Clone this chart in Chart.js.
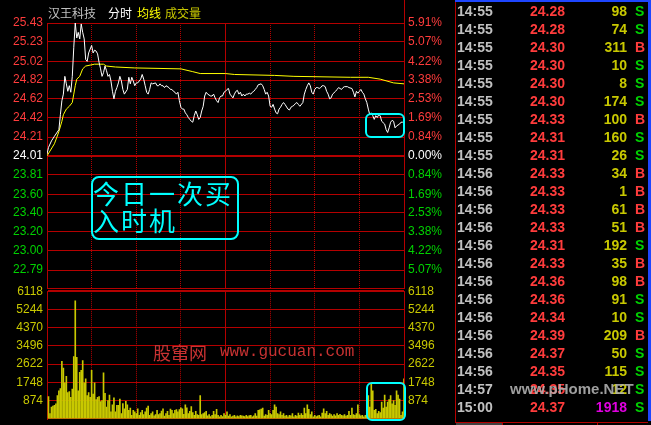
<!DOCTYPE html>
<html>
<head>
<meta charset="utf-8">
<script src="https://cdn.jsdelivr.net/npm/chart.js@4.4.0/dist/chart.umd.min.js"></script>
<style>
  html, body { margin: 0; padding: 0; background: #000; }
  #wrap { position: relative; width: 651px; height: 425px; overflow: hidden; background: #000;
          font-family: "Liberation Sans", Arial, sans-serif; }
  canvas { position: absolute; left: 0; }
  #cVol { top: 280px; }
  #cPrice { top: 0; }
  .abs { position: absolute; white-space: nowrap; }
  .cjk { font-family: "Noto Sans CJK SC", sans-serif; }
  .row { position: absolute; left: 455px; width: 193px; height: 18px; line-height: 18px;
         font: bold 14px "Liberation Sans", Arial, sans-serif; }
  .row span { position: absolute; top: 0; }
</style>
</head>
<body>
<div id="wrap">
  <canvas id="cVol" width="455" height="150"></canvas>
  <canvas id="cPrice" width="455" height="300"></canvas>

  <!-- title -->
  <span class="abs cjk" style="left:48px;top:6px;font-size:12px;line-height:14px;color:#c0c0c0">汉王科技</span>
  <span class="abs cjk" style="left:108px;top:6px;font-size:12px;line-height:14px;color:#ffffff">分时</span>
  <span class="abs cjk" style="left:137px;top:6px;font-size:12px;line-height:14px;color:#ffff00">均线</span>
  <span class="abs cjk" style="left:165px;top:6px;font-size:12px;line-height:14px;color:#c8c800">成交量</span>

  <!-- frame bits outside the plot -->
  <div class="abs" style="left:404px;top:0;width:1px;height:23px;background:#b40000"></div>
  <div class="abs" style="left:455px;top:0;width:1px;height:423px;background:#b40000"></div>
  <div class="abs" style="left:455px;top:0;width:196px;height:2px;background:#1e46ff"></div>
  <div class="abs" style="left:648px;top:0;width:3px;height:421px;background:#1e46ff"></div>
  <div class="abs" style="left:455px;top:422px;width:193px;height:1px;background:#b40000"></div>
  <div class="abs" style="left:456px;top:423px;width:46px;height:2px;background:#404040"></div>
  <div class="abs" style="left:502px;top:422px;width:1px;height:3px;background:#b40000"></div>
  <div class="abs" style="left:597px;top:422px;width:1px;height:3px;background:#b40000"></div>

  <!-- watermark -->
  <span class="abs cjk" style="left:153px;top:342px;font-size:18px;line-height:20px;color:#c83232">股窜网</span>
  <span class="abs" style="left:220px;top:343px;font:16px/18px 'Liberation Mono', monospace;color:#c83232">www.gucuan.com</span>

  <!-- annotations -->
  <div class="abs" style="left:91px;top:176px;width:148px;height:64px;box-sizing:border-box;border:2px solid #00ffff;border-radius:8px"></div>
  <div class="abs cjk" style="left:93px;top:179px;font-size:26px;line-height:27px;letter-spacing:2px;color:#00ffff">今日一次买<br>入时机</div>
  <div class="abs" style="left:365px;top:113px;width:40px;height:25px;box-sizing:border-box;border:2px solid #00ffff;border-radius:6px"></div>
  <div class="abs" style="left:366px;top:382px;width:40px;height:39px;box-sizing:border-box;border:2px solid #00ffff;border-radius:6px"></div>

  <div id="ticks"></div>
  <span class="abs" style="left:510px;top:381px;font:bold 15px/16px 'Liberation Sans', Arial, sans-serif;color:rgba(175,175,175,0.9)">www.pHome.NET</span>
</div>

<script>
// minute index (0 = 9:30, 120 = 11:30/13:00, 240 = 15:00) and price of the white line
const priceMin = [0, 1, 3, 5, 8, 9, 10, 11, 12, 13, 14, 15, 16, 17, 18, 19, 20, 21, 22, 23, 24, 25, 26, 27, 28, 30,
  31, 32, 33, 34, 35, 36, 37, 38, 39, 40, 41, 42, 43, 44, 45, 46, 47, 48, 49, 50, 51, 52, 54, 55, 56, 57, 58, 59,
  60, 61, 63, 64, 65, 66, 67, 68, 69, 70, 71, 73, 74, 75, 76, 77, 78, 79, 80, 82, 83, 84, 85, 86, 87, 88, 89, 90,
  91, 92, 93, 94, 95, 96, 97, 98, 99, 100, 101, 102, 103, 104, 105, 106, 107, 108, 110, 111, 112, 113, 114, 115,
  116, 117, 118, 119, 120,
  121, 122, 123, 124, 125, 126, 127, 128, 129, 130, 131, 132, 133, 134, 135, 136, 137, 138, 139, 140, 141, 142,
  144, 145, 146, 147, 148, 149, 150, 151, 152, 153, 154, 155, 156, 157, 158, 159, 160, 162, 163, 164, 165, 166,
  167, 168, 169, 170, 172, 173, 174, 175, 176, 177, 178, 179, 180, 181, 182, 183, 184, 185, 186, 187, 188, 189,
  190, 191, 192, 194, 195, 196, 197, 198, 199, 200, 201, 202, 203, 205, 206, 207, 208, 209, 210, 211, 212, 213,
  214, 215, 216, 217, 218, 219, 220, 221, 222, 223, 224, 225, 227, 228, 229, 230, 231, 232, 233, 234, 235, 237,
  238, 239, 240];
const priceVal = [24.03, 24.10, 24.17, 24.22, 24.29, 24.45, 24.60, 24.67, 24.86, 24.78, 24.70, 24.76, 24.69, 24.86,
  25.17, 25.43, 25.27, 25.33, 25.26, 25.42, 25.33, 25.26, 25.04, 25.02, 25.11, 25.19,
  25.11, 25.14, 25.13, 25.10, 25.01, 24.94, 24.86, 24.90, 24.97, 24.92, 24.86, 24.88, 24.81, 24.70, 24.62, 24.70,
  24.74, 24.79, 24.86, 24.81, 24.72, 24.67, 24.72, 24.85, 24.78, 24.85, 24.81, 24.76,
  24.79, 24.79, 24.83, 24.88, 24.83, 24.76, 24.69, 24.67, 24.72, 24.79, 24.78, 24.79, 24.76, 24.76, 24.78, 24.76,
  24.76, 24.74, 24.76, 24.74, 24.72, 24.72, 24.70, 24.69, 24.67, 24.69, 24.60, 24.53,
  24.51, 24.51, 24.47, 24.45, 24.42, 24.40, 24.38, 24.37, 24.44, 24.49, 24.45, 24.40, 24.42, 24.49, 24.54, 24.65,
  24.69, 24.67, 24.65, 24.65, 24.67, 24.63, 24.60, 24.58,
  24.63, 24.65, 24.65, 24.69, 24.70,
  24.72, 24.73, 24.67, 24.65, 24.63, 24.67, 24.70, 24.71, 24.67, 24.69, 24.65, 24.67, 24.65, 24.67, 24.67, 24.68,
  24.67, 24.69, 24.70, 24.72, 24.74, 24.77,
  24.78, 24.76, 24.72, 24.67, 24.69, 24.65, 24.54, 24.53, 24.56, 24.51, 24.47, 24.46, 24.51, 24.53, 24.56, 24.58,
  24.56, 24.51, 24.50, 24.53, 24.54, 24.55,
  24.57, 24.58, 24.56, 24.54, 24.58, 24.67, 24.72, 24.76, 24.79, 24.76, 24.69, 24.67, 24.72, 24.74, 24.74, 24.73,
  24.74, 24.76, 24.76, 24.75, 24.70, 24.67,
  24.62, 24.63, 24.67, 24.70, 24.72, 24.74, 24.73, 24.72, 24.74, 24.75, 24.75, 24.75, 24.74, 24.73, 24.69, 24.64,
  24.70, 24.68, 24.70, 24.72, 24.69, 24.67,
  24.62, 24.58, 24.51, 24.45, 24.47, 24.44, 24.40, 24.44, 24.42, 24.45, 24.44, 24.38, 24.35, 24.29, 24.26, 24.31,
  24.37, 24.39, 24.38, 24.31, 24.33, 24.35,
  24.37, 24.37, 24.37];

// yellow average-price line
const avgMin = [0, 5, 8, 10, 11, 13, 15, 17, 18, 19, 20, 22, 24, 26, 29, 32, 38, 40, 46, 59, 90, 98, 103, 120,
  126, 153, 166, 204, 216, 224, 233, 240];
const avgVal = [24.01, 24.14, 24.27, 24.38, 24.45, 24.51, 24.54, 24.58, 24.67, 24.76, 24.83, 24.86, 24.94, 24.97,
  24.98, 24.99, 24.99, 24.97, 24.96, 24.95, 24.94, 24.91, 24.89, 24.89,
  24.88, 24.87, 24.86, 24.85, 24.85, 24.83, 24.79, 24.78];

// volume per minute, minutes 1..240
const volume = [
  1060, 250, 560, 610, 640, 720, 1110, 1340, 1450, 2750,
  2430, 1730, 2040, 1260, 1300, 1030, 1420, 2980, 5660, 2950,
  1340, 2230, 2320, 2790, 1730, 1920, 1110, 1260, 1030, 2320,
  1180, 1730, 920, 1030, 1060, 830, 870, 2200, 1220, 560,
  870, 1140, 330, 670, 1000, 330, 640, 640, 950, 250,
  730, 480, 840, 670, 410, 510, 170, 410, 330,
  250, 480, 170, 300, 410, 200, 330, 510, 610, 170,
  250, 330, 140, 200, 410, 200, 250, 370, 480,
  130, 250, 360, 170, 470, 410, 250, 410, 440,
  330, 440, 520, 480, 220, 670, 520, 250, 360,
  590, 300, 170, 360, 200, 170, 1110, 200, 250, 300,
  360, 140, 200, 110, 170, 360, 200, 450, 170, 90,
  170, 110, 250, 170,
  330, 125, 200, 95, 125, 170, 95, 140, 110, 170,
  140, 125, 110, 170, 110, 155, 170, 95, 140, 250,
  125, 405, 435, 470, 515, 125, 200, 170, 405, 250,
  200, 405, 670, 560, 250, 200, 330, 170, 250, 125,
  170, 95, 170, 140, 250, 95, 170, 125, 280, 170,
  250, 170, 515, 250, 670, 450, 200, 330, 95, 170,
  110, 140, 170, 95, 280, 480, 250, 360, 170, 250,
  200, 125, 200, 140, 250, 170, 220, 170, 140, 200,
  125, 170, 360, 170, 515, 200, 170, 250, 670, 200,
  140, 170, 95, 170, 250, 1110, 560, 1650, 1340, 405,
  450, 250, 360, 300, 800, 515, 1140, 560, 800, 920,
  1110, 720, 875, 640, 1340, 1140, 950, 170, 330, 1918];

const prevClose = 24.01;
const priceTicks = [25.43, 25.23, 25.02, 24.82, 24.62, 24.42, 24.21, 24.01, 23.81, 23.60, 23.40, 23.20, 23.00, 22.79, 22.59];
const priceLabels = ['25.43', '25.23', '25.02', '24.82', '24.62', '24.42', '24.21', '24.01', '23.81', '23.60',
  '23.40', '23.20', '23.00', '22.79', ''];
const pctLabels = ['5.91%', '5.07%', '4.22%', '3.38%', '2.53%', '1.69%', '0.84%', '0.00%', '0.84%', '1.69%',
  '2.53%', '3.38%', '4.22%', '5.07%', ''];
const volTicks = [6118, 5244, 4370, 3496, 2622, 1748, 874, 0];
const volLabels = ['6118', '5244', '4370', '3496', '2622', '1748', '874', ''];
const halfHours = [30, 60, 90, 120, 150, 180, 210];

// tick-by-tick list on the right
const tradeTime = ['14:55', '14:55', '14:55', '14:55', '14:55', '14:55', '14:55', '14:55', '14:55',
  '14:56', '14:56', '14:56', '14:56', '14:56', '14:56', '14:56', '14:56', '14:56', '14:56', '14:56', '14:56',
  '14:57', '15:00'];
const tradePrice = ['24.28', '24.28', '24.30', '24.30', '24.30', '24.30', '24.33', '24.31', '24.31',
  '24.33', '24.33', '24.33', '24.33', '24.31', '24.33', '24.36', '24.36', '24.34', '24.39', '24.37', '24.35',
  '24.35', '24.37'];
const tradeVol = [98, 74, 311, 10, 8, 174, 100, 160, 26, 34, 1, 61, 51, 192, 35, 98, 91, 10, 209, 50, 115, 12, 1918];
const tradeSide = ['S', 'S', 'B', 'S', 'S', 'S', 'B', 'S', 'S', 'B', 'B', 'B', 'B', 'S', 'B', 'B', 'S', 'S', 'B',
  'S', 'S', 'S', 'S'];

const gridRed = '#b40000';
const upRed = '#ff3c3c';
const downGreen = '#00d200';
const volYellow = '#c8c800';
const axisFont = { family: "'Liberation Sans', Arial, sans-serif", size: 12 };

const xScale = () => ({
    type: 'linear',
    min: 0,
    max: 240,
    offset: false,
    ticks: { display: false },
    grid: { display: false, offset: false },
    border: { display: false },
    afterFit: s => { s.height = 0; }
});

// dotted every half hour, solid at noon
const sessionLines = {
    id: 'sessionLines',
    beforeDatasetsDraw(chart) {
        const { ctx, chartArea, scales: { x } } = chart;
        ctx.save();
        ctx.strokeStyle = gridRed;
        ctx.lineWidth = 1;
        halfHours.forEach(m => {
            const px = Math.floor(x.getPixelForValue(m)) + 0.5;
            ctx.setLineDash(m === 120 ? [] : [1, 1]);
            ctx.beginPath();
            ctx.moveTo(px, chartArea.top);
            ctx.lineTo(px, chartArea.bottom);
            ctx.stroke();
        });
        ctx.restore();
    }
};

const sideColor = i => (i < 7 ? upRed : (i === 7 ? '#ffffff' : downGreen));

new Chart(document.getElementById('cPrice'), {
    type: 'line',
    data: {
        datasets: [
            {
                data: priceMin.map((m, i) => ({ x: m, y: priceVal[i] })),
                borderColor: '#ffffff',
                borderWidth: 1,
                pointRadius: 0,
                tension: 0
            },
            {
                data: avgMin.map((m, i) => ({ x: m, y: avgVal[i] })),
                borderColor: '#ffff00',
                borderWidth: 1,
                pointRadius: 0,
                tension: 0
            }
        ]
    },
    options: {
        responsive: false,
        animation: false,
        devicePixelRatio: 1,
        layout: { padding: { top: 23, bottom: 10, left: 0, right: 0 } },
        plugins: { legend: { display: false }, tooltip: { enabled: false } },
        scales: {
            x: xScale(),
            y: {
                position: 'left',
                min: 22.59,
                max: 25.43,
                afterBuildTicks: s => { s.ticks = priceTicks.map(v => ({ value: v })); },
                afterFit: s => { s.width = 47; },
                ticks: { autoSkip: false, padding: 4, font: axisFont, color: c => sideColor(c.index),
                         callback: (v, i) => priceLabels[i] },
                grid: { color: gridRed, drawTicks: false,
                        lineWidth: c => (c.tick && c.tick.value === prevClose ? 2 : 1) },
                border: { color: gridRed }
            },
            yr: {
                position: 'right',
                min: 22.59,
                max: 25.43,
                afterBuildTicks: s => { s.ticks = priceTicks.map(v => ({ value: v })); },
                afterFit: s => { s.width = 51; },
                ticks: { autoSkip: false, padding: 4, font: axisFont, color: c => sideColor(c.index),
                         callback: (v, i) => pctLabels[i] },
                grid: { drawOnChartArea: false, drawTicks: false },
                border: { color: gridRed }
            }
        }
    },
    plugins: [sessionLines]
});

new Chart(document.getElementById('cVol'), {
    type: 'bar',
    data: {
        datasets: [{
            data: volume.map((v, i) => ({ x: i + 1, y: v })),
            backgroundColor: volYellow,
            barThickness: 1
        }]
    },
    options: {
        responsive: false,
        animation: false,
        devicePixelRatio: 1,
        layout: { padding: { top: 10, bottom: 8, left: 0, right: 0 } },
        plugins: { legend: { display: false }, tooltip: { enabled: false } },
        scales: {
            x: xScale(),
            y: {
                position: 'left',
                min: 0,
                max: 6118,
                afterBuildTicks: s => { s.ticks = volTicks.map(v => ({ value: v })); },
                afterFit: s => { s.width = 47; },
                ticks: { autoSkip: false, padding: 4, font: axisFont, color: volYellow,
                         callback: (v, i) => volLabels[i] },
                grid: { color: gridRed, drawTicks: false,
                        lineWidth: c => (c.tick && c.tick.value === 6118 ? 2 : 1) },
                border: { color: gridRed }
            },
            yr: {
                position: 'right',
                min: 0,
                max: 6118,
                afterBuildTicks: s => { s.ticks = volTicks.map(v => ({ value: v })); },
                afterFit: s => { s.width = 51; },
                ticks: { autoSkip: false, padding: 4, font: axisFont, color: volYellow,
                         callback: (v, i) => volLabels[i] },
                grid: { drawOnChartArea: false, drawTicks: false },
                border: { color: gridRed }
            }
        }
    },
    plugins: [sessionLines]
});

// right-hand trade list
const list = document.getElementById('ticks');
list.innerHTML = tradeTime.map((t, i) => {
    const volColor = tradeVol[i] >= 1000 ? '#e000e0' : volYellow;
    const sideCol = tradeSide[i] === 'B' ? upRed : downGreen;
    return `<div class="row" style="top:${3 + i * 18}px">
        <span style="left:2px;color:#c0c0c0">${t}</span>
        <span style="left:45px;width:65px;text-align:right;color:${upRed}">${tradePrice[i]}</span>
        <span style="left:120px;width:52px;text-align:right;color:${volColor}">${tradeVol[i]}</span>
        <span style="left:180px;color:${sideCol}">${tradeSide[i]}</span>
    </div>`;
}).join('');
</script>
</body>
</html>
